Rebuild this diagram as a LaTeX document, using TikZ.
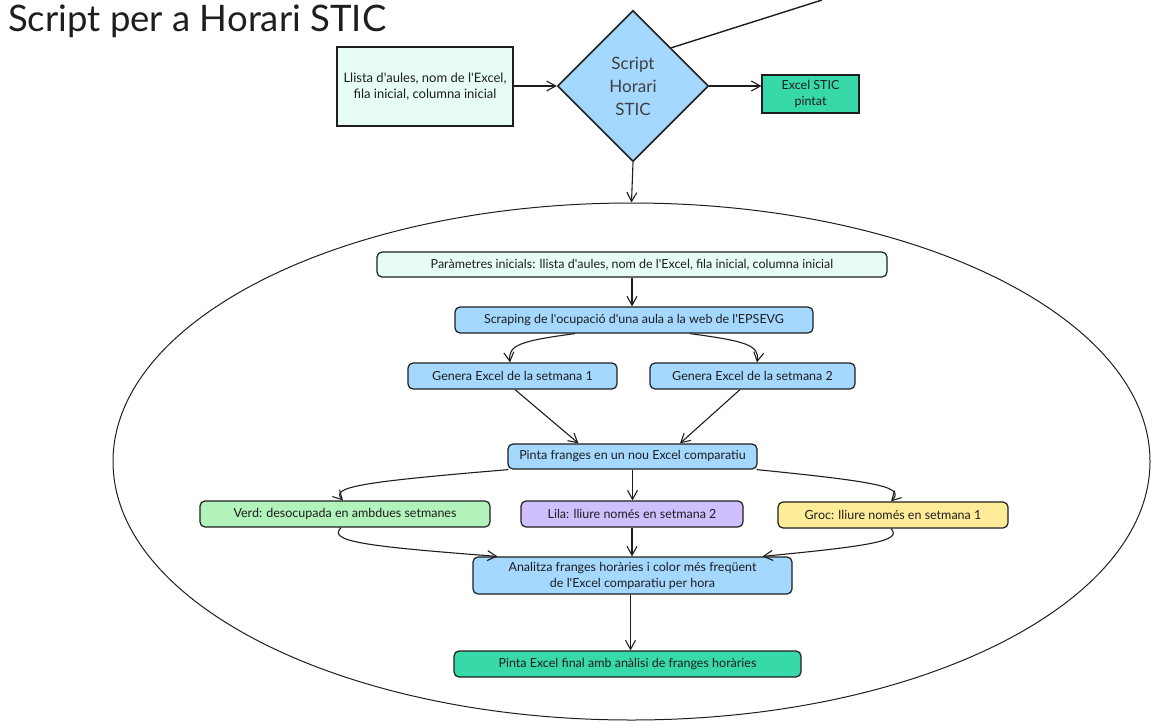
\documentclass[tikz,border=0pt]{standalone}
\usepackage{fontspec}
\setmainfont{Lato}
\usetikzlibrary{shapes.geometric,arrows.meta,calc}
\newcommand{\ap}{\textquotesingle}
\definecolor{ink}{HTML}{1E1E1E}
\definecolor{mint}{HTML}{E6FCF5}
\definecolor{sky}{HTML}{A5D8FF}
\definecolor{teal}{HTML}{38D9A9}
\definecolor{verdc}{HTML}{B2F2BB}
\definecolor{lilac}{HTML}{D0BFFF}
\definecolor{grocc}{HTML}{FFEC99}
\begin{document}
\begin{tikzpicture}[x=1pt,y=-1pt,
  box/.style={draw=ink, line width=1.2pt, rounded corners=5pt, inner sep=0pt, font=\fontsize{12.5}{16}\selectfont, text=ink, align=center},
  sqbox/.style={box, rounded corners=0pt},
  arr/.style={draw=ink, line width=1.1pt, -{Straight Barb[length=9pt,width=10pt]}},
]
\useasboundingbox (0,0) rectangle (1154,728);
\node[anchor=base west, inner sep=0pt, font=\fontsize{36.5}{40}\selectfont, text=ink] (title) at (8,31) {Script per a Horari STIC};

\node[sqbox, fill=mint, minimum width=176pt, minimum height=79pt, font=\fontsize{13}{16}\selectfont] (in) at (425,86.5) {Llista d\ap aules, nom de l\ap Excel,\\fila inicial, columna inicial};
\node[diamond, aspect=1, draw=ink, line width=1.6pt, fill=sky, minimum size=151pt, inner sep=0pt, align=center, text=ink!85, font=\fontsize{17}{23}\selectfont] (dia) at (633,86) {Script\\Horari\\STIC};
\node[sqbox, fill=teal, minimum width=97pt, minimum height=38pt] (out) at (810.5,94) {Excel STIC\\pintat};

\coordinate (far) at (822,0);
\draw[draw=ink, line width=1.4pt] (dia.north east) -- (far);

\node[ellipse, draw=ink, line width=1pt, minimum width=1037pt, minimum height=517pt, inner sep=0pt] (ell) at (631.5,461.5) {};

\node[box, fill=mint, minimum width=510pt, minimum height=25pt] (par) at (632,264.5) {Paràmetres inicials: llista d\ap aules, nom de l\ap Excel, fila inicial, columna inicial};
\node[box, fill=sky, minimum width=358pt, minimum height=26pt] (scr) at (634,320) {Scraping de l\ap ocupació d\ap una aula a la web de l\ap EPSEVG};
\node[box, fill=sky, minimum width=209pt, minimum height=26pt] (g1) at (512.5,376) {Genera Excel de la setmana 1};
\node[box, fill=sky, minimum width=205pt, minimum height=26pt] (g2) at (752.5,376) {Genera Excel de la setmana 2};
\node[box, fill=sky, minimum width=249pt, minimum height=25pt] (pin) at (632.5,456.5) {Pinta franges en un nou Excel comparatiu};
\node[box, fill=verdc, minimum width=290pt, minimum height=26pt] (verd) at (345,514) {Verd: desocupada en ambdues setmanes};
\node[box, fill=lilac, minimum width=222pt, minimum height=26pt] (lila) at (632,514) {Lila: lliure només en setmana 2};
\node[box, fill=grocc, minimum width=230pt, minimum height=26pt] (groc) at (893,515) {Groc: lliure només en setmana 1};
\node[box, fill=sky, minimum width=319pt, minimum height=37pt] (anal) at (632.5,575.5) {Analitza franges horàries i color més freqüent\\de l\ap Excel comparatiu per hora};
\node[box, fill=teal, minimum width=347pt, minimum height=26pt] (fin) at (627.5,664) {Pinta Excel final amb anàlisi de franges horàries};

% connectors
\draw[arr] (in.east |- dia.west) -- (dia.west);
\draw[arr] (dia.east) -- (dia.east -| out.west);
\draw[arr] (dia.south) -- (ell.north);
\draw[arr] (par.south) -- (par.south |- scr.north);
\draw[arr] ([xshift=-59pt]scr.south) .. controls (520,341) and (508,345) .. ([xshift=-2.5pt]g1.north);
\draw[arr] ([xshift=56pt]scr.south) .. controls (745,341) and (760,345) .. ([xshift=4.5pt]g2.north);
\draw[arr] ([xshift=2.5pt]g1.south) -- ([xshift=-54pt]pin.north);
\draw[arr] ([xshift=-12.5pt]g2.south) -- ([xshift=47.5pt]pin.north);
\draw[arr] ([xshift=1pt]pin.south west) .. controls (360,482) and (330,487) .. ([xshift=-2pt]verd.north);
\draw[arr] (pin.south) -- (pin.south |- lila.north);
\draw[arr] ([xshift=-1pt]pin.south east) .. controls (880,482) and (905,487) .. ([xshift=-2pt]groc.north);
\draw[arr] ([xshift=-4pt]verd.south) .. controls (328,541) and (360,546) .. ([xshift=-135pt]anal.north);
\draw[arr] (lila.south) -- (lila.south |- anal.north);
\draw[arr] ([xshift=-2pt]groc.south) .. controls (903,541) and (870,546) .. ([xshift=130pt]anal.north);
\draw[arr] ([xshift=-2pt]anal.south) -- ([xshift=-2pt]anal.south |- fin.north);
\end{tikzpicture}
\end{document}
